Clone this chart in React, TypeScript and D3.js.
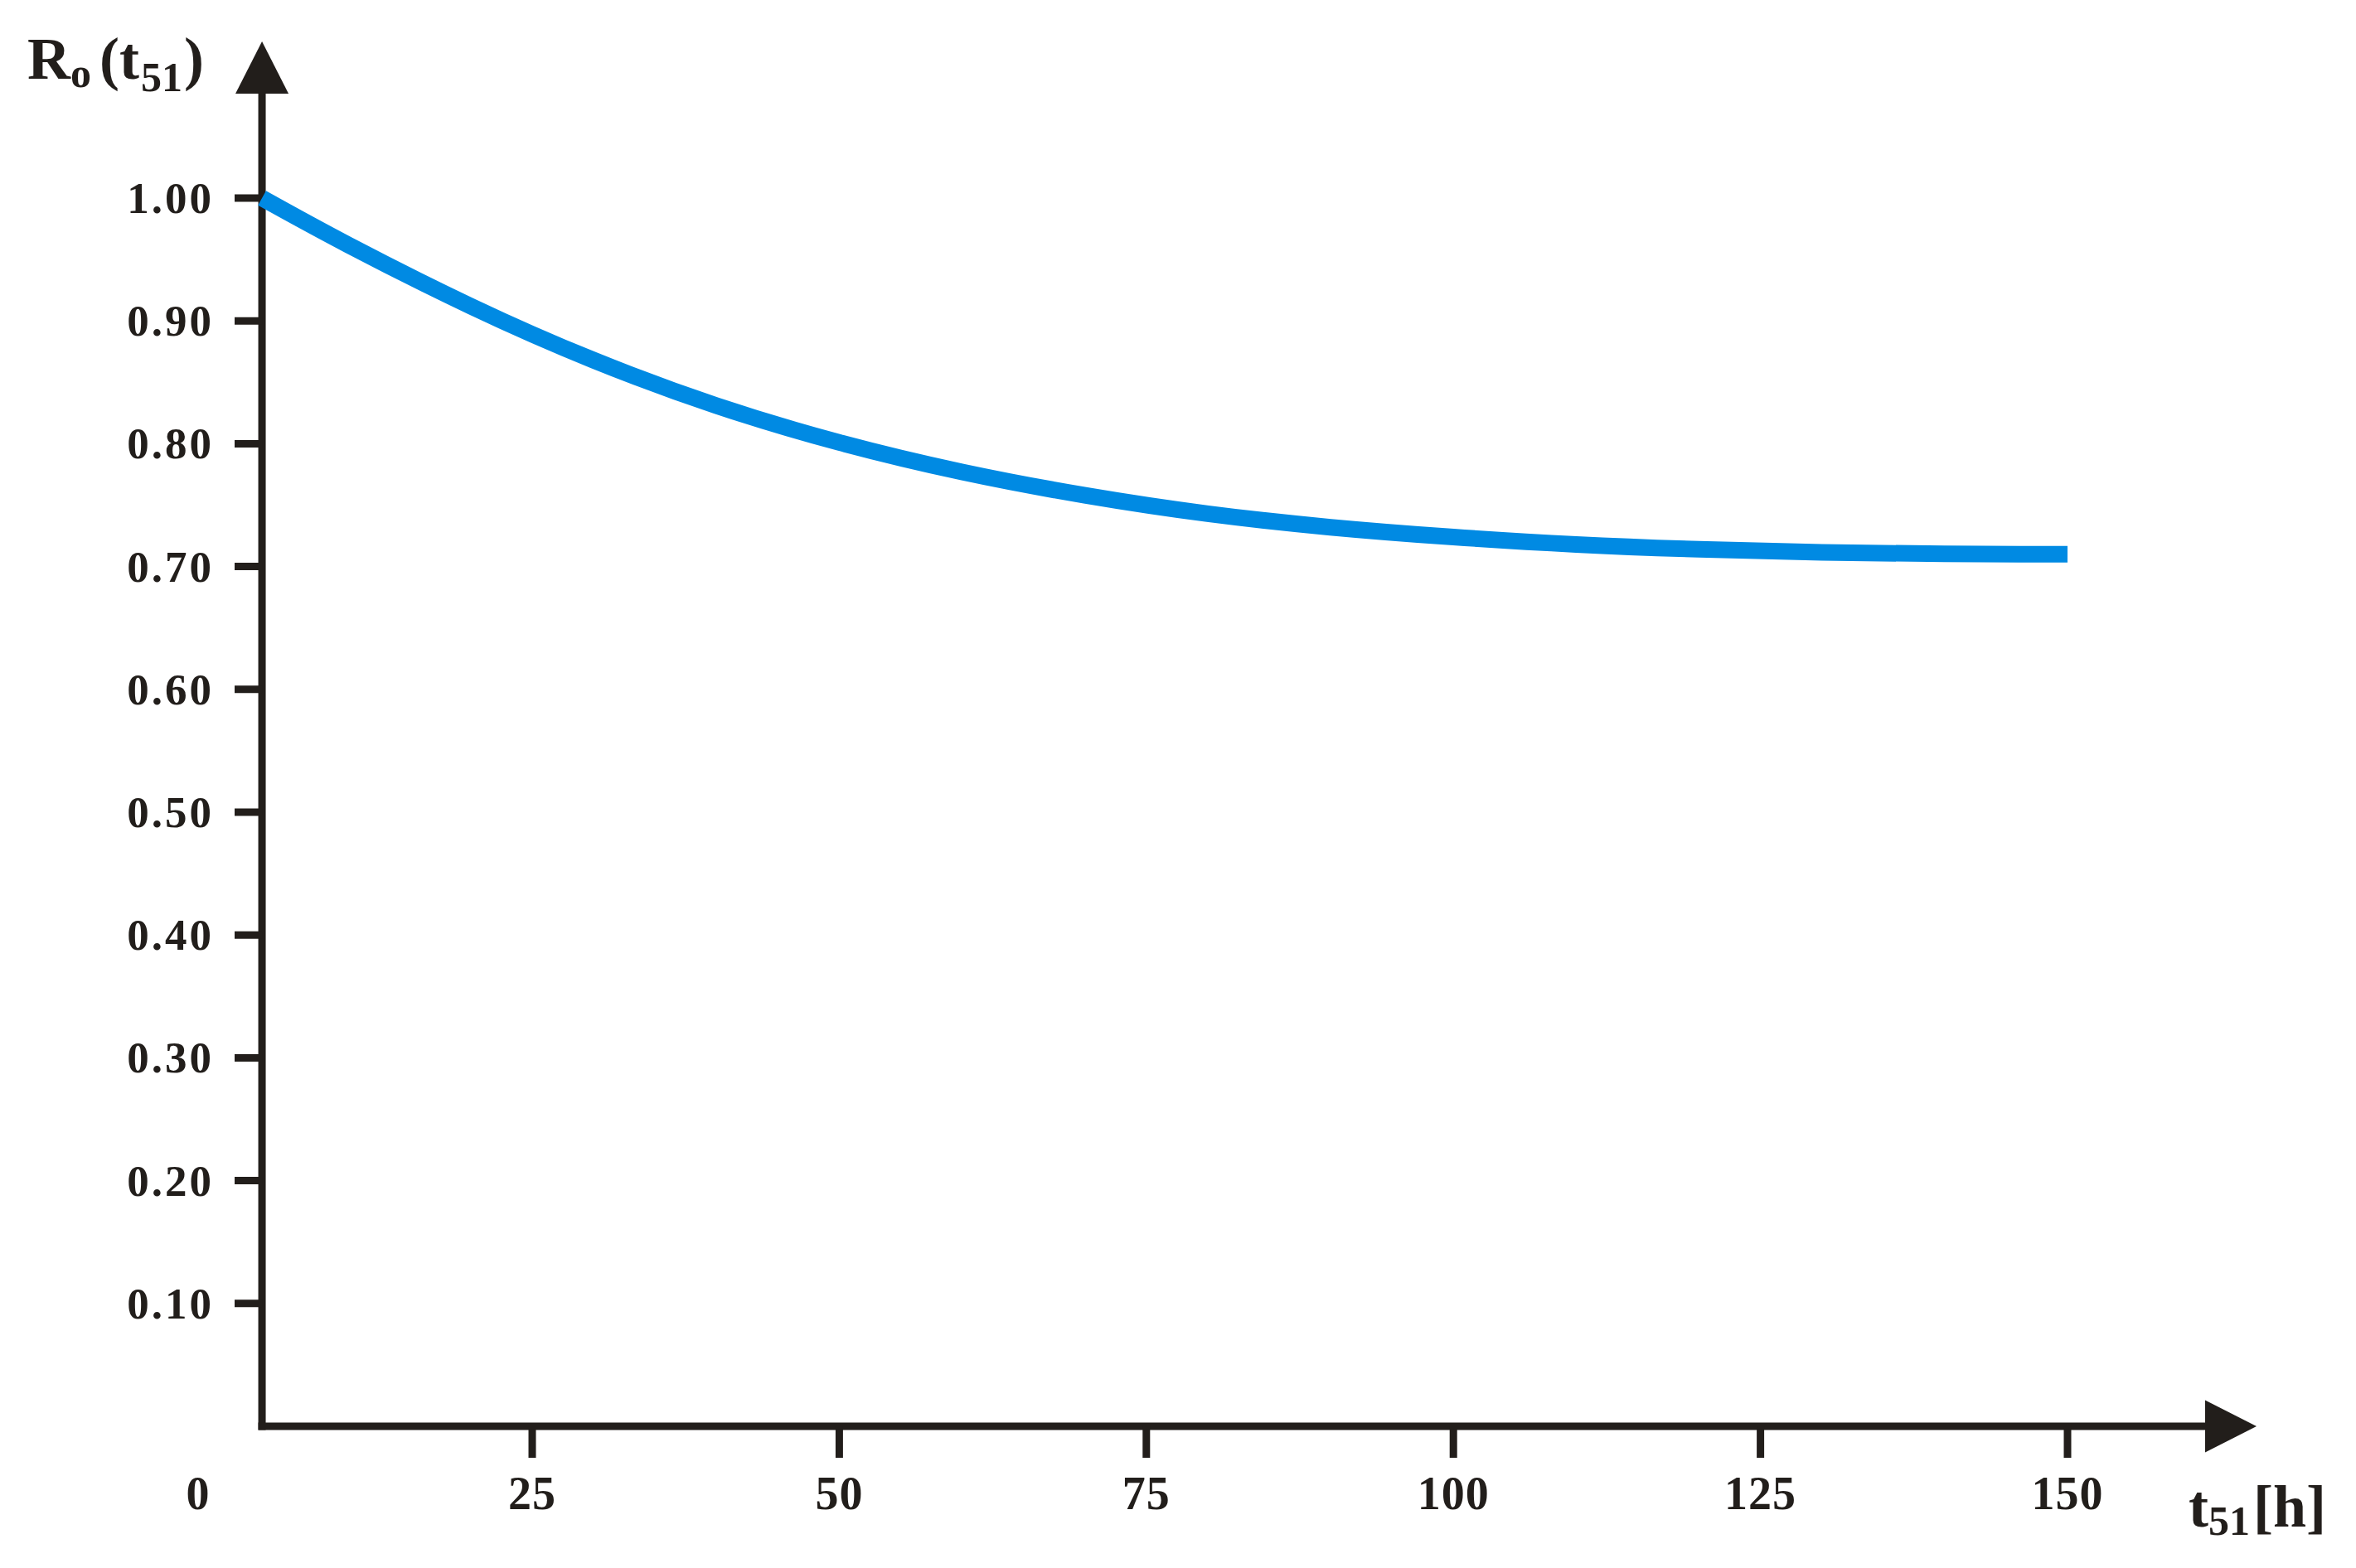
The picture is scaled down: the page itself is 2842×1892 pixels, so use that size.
import React from "react";
import * as d3 from "d3";

// readings: time [h] vs reliability R_o
const tHours = [3, 10, 20, 30, 40, 50, 60, 70, 80, 90, 100, 110, 120, 130, 140, 150];
const reliability = [1.0, 0.962, 0.912, 0.868, 0.831, 0.801, 0.777, 0.758, 0.743, 0.732, 0.724, 0.718, 0.714, 0.7115, 0.7103, 0.71];

const xTicks = [25, 50, 75, 100, 125, 150];
const yTicks = [0.1, 0.2, 0.3, 0.4, 0.5, 0.6, 0.7, 0.8, 0.9, 1.0];

const W = 2842;
const H = 1892;
const ink = "#221e1b";
const blue = "#008ae3";
const font = "'Liberation Serif', 'Times New Roman', serif";

const App = () => {
  // x: 0..150 h, axis itself sits a little right of zero (at ~3 h)
  const x = d3.scaleLinear().domain([0, 150]).range([271.6, 2494]);
  const y = d3.scaleLinear().domain([0, 1]).range([1721, 239]);

  const axisX = x(3);
  const axisY = y(0);

  const line = d3
    .line<number>()
    .x((_, i) => x(tHours[i]))
    .y((d) => y(d))
    .curve(d3.curveNatural);

  return (
    <div>
      <style>{"body{margin:0}"}</style>
      <svg width={W} height={H} style={{ display: "block", background: "#fff" }}>
        {/* y axis + arrow */}
        <line x1={axisX} x2={axisX} y1={axisY + 4.5} y2={110} stroke={ink} strokeWidth={9} />
        <polygon points={`${axisX},50 ${axisX - 32},113 ${axisX + 32},113`} fill={ink} />
        {/* x axis + arrow */}
        <line x1={axisX - 4.5} x2={2662} y1={axisY} y2={axisY} stroke={ink} strokeWidth={9} />
        <polygon points={`2722,${axisY} 2660,${axisY - 31.5} 2660,${axisY + 31.5}`} fill={ink} />

        {/* y ticks */}
        {yTicks.map((v) => (
          <g key={v}>
            <line x1={283} x2={axisX} y1={y(v)} y2={y(v)} stroke={ink} strokeWidth={9} />
            <text
              x={258}
              y={y(v) + 18}
              textAnchor="end"
              fontFamily={font}
              fontWeight="bold"
              fontSize={53}
              letterSpacing={3}
              fill={ink}
            >
              {v.toFixed(2)}
            </text>
          </g>
        ))}

        {/* x ticks */}
        {xTicks.map((v) => (
          <g key={v}>
            <line x1={x(v)} x2={x(v)} y1={axisY} y2={1759} stroke={ink} strokeWidth={9} />
            <text
              x={x(v)}
              y={1821}
              textAnchor="middle"
              fontFamily={font}
              fontWeight="bold"
              fontSize={56}
              letterSpacing={1}
              fill={ink}
            >
              {v}
            </text>
          </g>
        ))}
        <text x={x(0) - 33} y={1821} textAnchor="middle" fontFamily={font} fontWeight="bold" fontSize={56} fill={ink}>
          0
        </text>

        {/* curve */}
        <path d={line(reliability) ?? ""} fill="none" stroke={blue} strokeWidth={20} strokeLinecap="butt" />

        {/* axis titles */}
        <text x={33} y={95} fontFamily={font} fontWeight="bold" fontSize={72} fill={ink}>
          R
          <tspan fontSize={50} dy={10}>o</tspan>
          <tspan fontSize={72} dy={-10} dx={10}>(t</tspan>
          <tspan fontSize={50} dy={15} dx={2}>51</tspan>
          <tspan fontSize={72} dy={-15} dx={2}>)</tspan>
        </text>
        <text x={2640} y={1842} fontFamily={font} fontWeight="bold" fontSize={72} fill={ink}>
          t
          <tspan fontSize={50} dy={10}>51</tspan>
          <tspan fontSize={72} dy={-10} dx={4}>[h]</tspan>
        </text>
      </svg>
    </div>
  );
};

export default App;
